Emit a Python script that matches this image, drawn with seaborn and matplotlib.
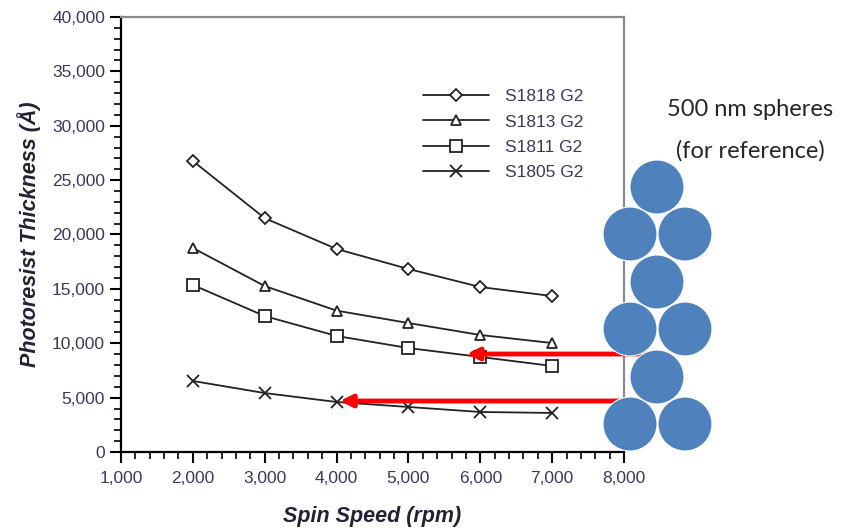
import numpy as np
import pandas as pd
import matplotlib
matplotlib.use("Agg")
import matplotlib.pyplot as plt
import seaborn as sns
from matplotlib.patches import Circle
from matplotlib.ticker import MultipleLocator, FuncFormatter

# data
spin_speed = [2000, 3000, 4000, 5000, 6000, 7000]
s1818 = [26760, 21500, 18670, 16830, 15170, 14340]
s1813 = [18760, 15260, 13000, 11860, 10760, 10020]
s1811 = [15360, 12500, 10670, 9560, 8740, 7910]
s1805 = [6530, 5420, 4600, 4140, 3680, 3590]
resists = ["S1818 G2", "S1813 G2", "S1811 G2", "S1805 G2"]
markers = ["D", "^", "s", "x"]
msizes = [6, 7, 8, 8]

# arrows: (y level, tip x)
arrow_y = [9010, 4690]
arrow_tip = [5810, 4046]

# sphere centres in pixels (x, y from top)
sphere_px = [(657, 187), (630, 234), (685, 234), (657, 282),
             (630, 329), (685, 329), (657, 377), (630, 424), (685, 424)]

df = pd.DataFrame({"speed": spin_speed * 4,
                   "thick": s1818 + s1813 + s1811 + s1805,
                   "resist": np.repeat(resists, len(spin_speed))})

sns.set_style("white")
plt.rcParams["font.family"] = ["Liberation Sans", "DejaVu Sans"]

fig = plt.figure(figsize=(8.41, 5.29), dpi=100)
ax = fig.add_axes([121 / 841, 1 - 452 / 529, 503 / 841, 435 / 529])

for name, m, ms in zip(resists, markers, msizes):
    sub = df[df["resist"] == name]
    sns.lineplot(data=sub, x="speed", y="thick", ax=ax, color="#222222",
                 marker=m, markersize=ms, markerfacecolor="white",
                 markeredgecolor="#222222", markeredgewidth=1.3, lw=1.3,
                 label=name)

ax.set_xlim(1000, 8000)
ax.set_ylim(0, 40000)
ax.xaxis.set_major_locator(MultipleLocator(1000))
ax.xaxis.set_minor_locator(MultipleLocator(200))
ax.yaxis.set_major_locator(MultipleLocator(5000))
ax.yaxis.set_minor_locator(MultipleLocator(1000))
fmt = FuncFormatter(lambda v, p: f"{int(v):,}")
ax.xaxis.set_major_formatter(fmt)
ax.yaxis.set_major_formatter(fmt)
ax.tick_params(which="major", direction="out", length=8, width=1.5,
               labelsize=12.5, labelcolor="#3a3a55", color="black",
               bottom=True, left=True)
ax.tick_params(which="minor", direction="out", length=5, width=1.2,
               color="black", bottom=True, left=True)
ax.tick_params(axis="x", pad=6)

for s in ["left", "bottom"]:
    ax.spines[s].set_color("black")
    ax.spines[s].set_linewidth(1.6)
for s in ["top", "right"]:
    ax.spines[s].set_color("#8a8a8a")
    ax.spines[s].set_linewidth(1.6)

ax.set_xlabel("Spin Speed (rpm)", fontsize=15.5, fontweight="bold",
              fontstyle="italic", color="#222233", labelpad=14)
ax.set_ylabel("Photoresist Thickness (Å)", fontsize=15.5, fontweight="bold",
              fontstyle="italic", color="#222233", labelpad=8)

leg = ax.legend(loc="upper left", bbox_to_anchor=(0.57, 0.87), frameon=False,
                fontsize=12.5, handlelength=3.8, labelspacing=0.58,
                handletextpad=0.9, labelcolor="#3a3a55")

for yv, tip in zip(arrow_y, arrow_tip):
    ax.annotate("", xy=(tip, yv), xytext=(8320, yv), xycoords="data",
                annotation_clip=False,
                arrowprops=dict(arrowstyle="-|>", color="red", lw=3.5,
                                mutation_scale=18, shrinkA=0, shrinkB=0))

for (px, py) in sphere_px:
    c = Circle((px / 100, (529 - py) / 100), 0.27,
               transform=fig.dpi_scale_trans, facecolor="#4f81bd",
               edgecolor="white", lw=0.8, zorder=10)
    fig.add_artist(c)

fig.text(750 / 841, 1 - 110 / 529, "500 nm spheres", fontsize=17,
         family=["Lato", "DejaVu Sans"], ha="center", va="center")
fig.text(750 / 841, 1 - 151 / 529, "(for reference)", fontsize=17,
         family=["Lato", "DejaVu Sans"], ha="center", va="center")

fig.savefig("out.png", dpi=100)
